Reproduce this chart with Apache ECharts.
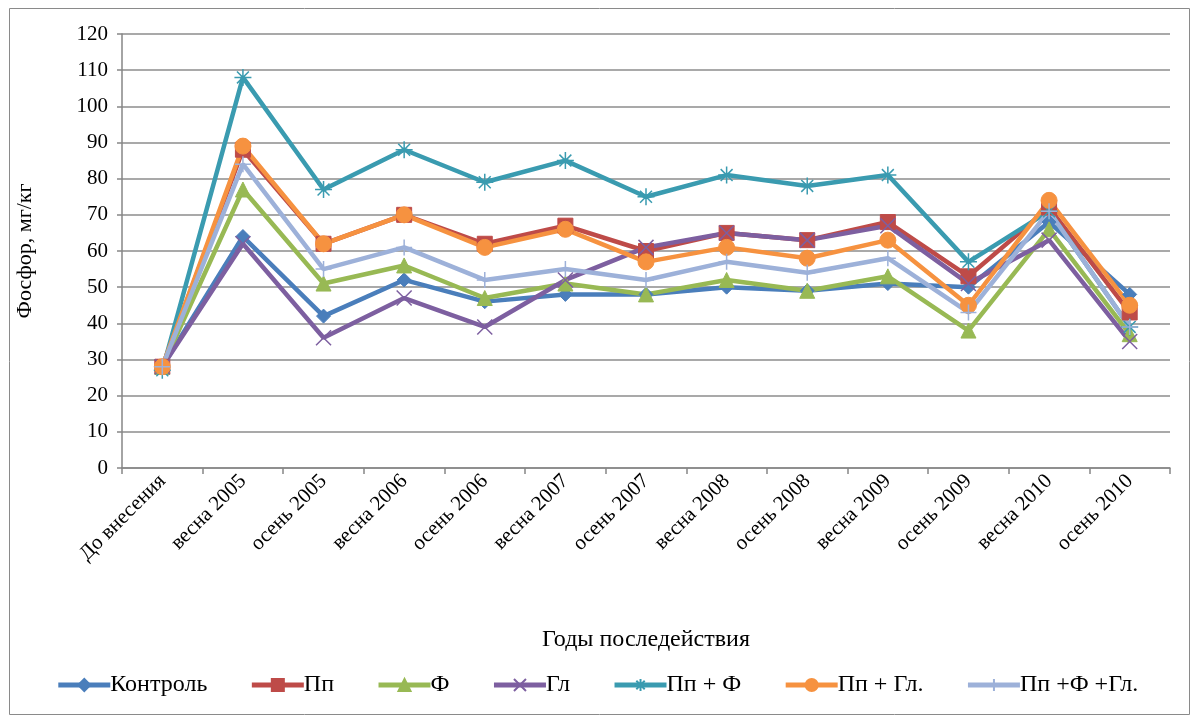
<!DOCTYPE html>
<html>
<head>
<meta charset="utf-8">
<script src="https://cdn.jsdelivr.net/npm/echarts@6/dist/echarts.min.js"></script>
<style>
  html, body { margin: 0; padding: 0; background: #fff; }
  #chart { width: 1194px; height: 722px; }
</style>
</head>
<body>
<div id="chart"></div>
<script>
// Categories along the x axis
const periods = ['До внесения', 'весна 2005', 'осень 2005', 'весна 2006', 'осень 2006',
  'весна 2007', 'осень 2007', 'весна 2008', 'осень 2008', 'весна 2009',
  'осень 2009', 'весна 2010', 'осень 2010'];

// Phosphorus content, mg/kg, per treatment
const kontrol   = [28, 64, 42, 52, 46, 48, 48, 50, 49, 51, 50, 68, 48];
const pp        = [28, 88, 62, 70, 62, 67, 60, 65, 63, 68, 53, 72, 43];
const f         = [28, 77, 51, 56, 47, 51, 48, 52, 49, 53, 38, 66, 37];
const gl        = [28, 62, 36, 47, 39, 52, 61, 65, 63, 67, 51, 63, 35];
const ppF       = [27, 108, 77, 88, 79, 85, 75, 81, 78, 81, 57, 71, 39];
const ppGl      = [28, 89, 62, 70, 61, 66, 57, 61, 58, 63, 45, 74, 45];
const ppFGl     = [28, 84, 55, 61, 52, 55, 52, 57, 54, 58, 43, 71, 39];

const seriesNames = ['Контроль', 'Пп', 'Ф', 'Гл', 'Пп + Ф', 'Пп + Гл.', 'Пп +Ф +Гл.'];

const serif = '"Liberation Serif", "DejaVu Serif", serif';

const X_PATH = 'path://M0,0L10,10M10,0L0,10';
const STAR_PATH = 'path://M5,0L5,10M0,5L10,5M1.5,1.5L8.5,8.5M8.5,1.5L1.5,8.5';
const PLUS_PATH = 'path://M5,0L5,10M0,5L10,5';

function makeSeries(name, data, color, symbol, size, bw) {
  return {
    name: name,
    type: 'line',
    data: data,
    symbol: symbol,
    symbolSize: size,
    showAllSymbol: true,
    lineStyle: { color: color, width: 4.5 },
    itemStyle: { color: color, borderColor: color, borderWidth: bw },
    emphasis: { disabled: true },
    z: 2
  };
}

const chart = echarts.init(document.getElementById('chart'), null, { renderer: 'canvas' });

chart.setOption({
  animation: false,
  backgroundColor: '#ffffff',
  graphic: [{
    type: 'rect',
    shape: { x: 9.5, y: 8.5, width: 1180, height: 706 },
    style: { fill: 'none', stroke: '#8a8a8a', lineWidth: 1 },
    silent: true
  }],
  grid: { left: 122, right: 24, top: 34, bottom: 254 },
  legend: {
    bottom: 20,
    left: 'center',
    itemWidth: 52,
    itemHeight: 15,
    itemGap: 42,
    lineStyle: { width: 5 },
    textStyle: { fontFamily: serif, fontSize: 24, color: '#000', padding: [0, 0, 0, -5] },
    data: seriesNames
  },
  xAxis: {
    type: 'category',
    data: periods,
    boundaryGap: true,
    name: 'Годы последействия',
    nameLocation: 'middle',
    nameGap: 160,
    nameTextStyle: { fontFamily: serif, fontSize: 24, color: '#000' },
    axisLine: { lineStyle: { color: '#868686', width: 1.5 } },
    axisTick: { show: true, alignWithLabel: false, length: 6, lineStyle: { color: '#868686', width: 1.5 } },
    axisLabel: { rotate: 45, fontFamily: serif, fontSize: 21, color: '#000', margin: 10, interval: 0 },
    splitLine: { show: false }
  },
  yAxis: {
    type: 'value',
    min: 0,
    max: 120,
    interval: 10,
    name: 'Фосфор, мг/кг',
    nameLocation: 'middle',
    nameRotate: 90,
    nameGap: 86,
    nameTextStyle: { fontFamily: serif, fontSize: 22, color: '#000' },
    axisLine: { show: true, lineStyle: { color: '#868686', width: 1.5 } },
    axisTick: { show: true, length: 5, lineStyle: { color: '#868686', width: 1.5 } },
    axisLabel: { fontFamily: serif, fontSize: 21, color: '#000', margin: 14 },
    splitLine: { show: true, lineStyle: { color: '#8c8c8c', width: 1.5 } }
  },
  series: [
    makeSeries(seriesNames[0], kontrol, '#4A7EBB', 'diamond', 14, 1),
    makeSeries(seriesNames[1], pp, '#BE4B48', 'rect', 15, 1),
    makeSeries(seriesNames[2], f, '#98B954', 'triangle', 15, 1),
    makeSeries(seriesNames[3], gl, '#7D5FA0', X_PATH, 15, 1.5),
    makeSeries(seriesNames[4], ppF, '#3A9BB0', STAR_PATH, 17, 1.5),
    makeSeries(seriesNames[5], ppGl, '#F69240', 'circle', 16, 1),
    makeSeries(seriesNames[6], ppFGl, '#9DB1D9', PLUS_PATH, 16, 1.5)
  ]
});
</script>
</body>
</html>
